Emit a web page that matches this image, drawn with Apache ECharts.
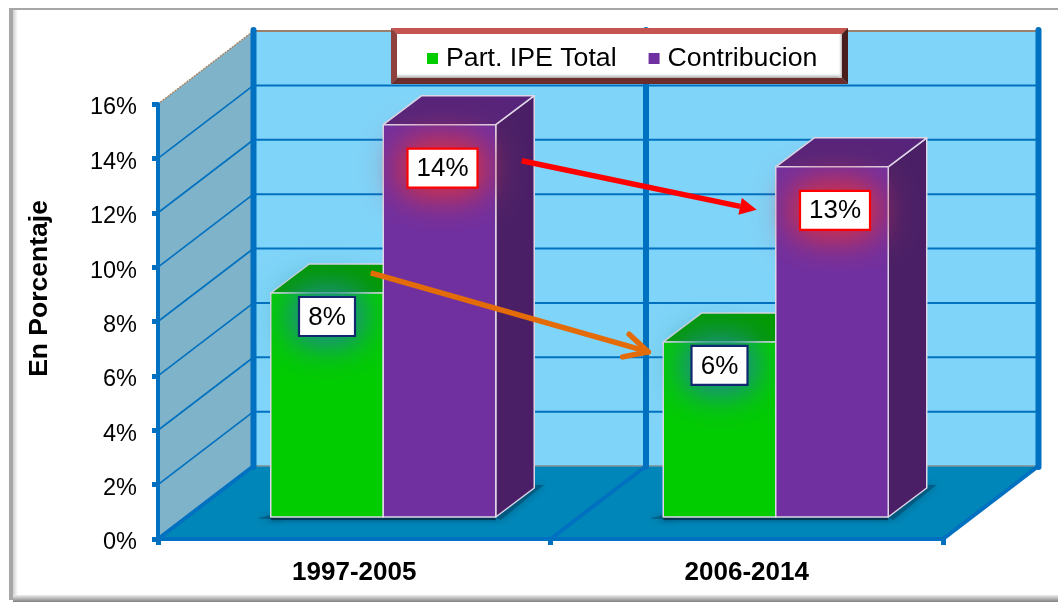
<!DOCTYPE html>
<html><head><meta charset="utf-8">
<style>html,body{margin:0;padding:0;background:#fff}#c{width:1058px;height:602px}</style>
<script src="https://cdn.jsdelivr.net/npm/echarts@6/dist/echarts.min.js"></script>
</head><body><div id="c"></div>
<script>
const categories = ['1997-2005', '2006-2014'];
const partIPE = [8.24, 6.44];
const contribucion = [14.43, 12.88];
const yTicks = [0, 2, 4, 6, 8, 10, 12, 14, 16];

const FONT = '"Liberation Sans", Arial, sans-serif';
const BLUE = '#0070c0';
const WALL = { dx: 95.5, dy: -73 };
const BAR = { dx: 29, dy: -22, w: 112.5, ddx: 38.5, ddy: -29 };
const chart = echarts.init(document.getElementById('c'), null, { renderer: 'canvas' });

function poly(points, style, z2) {
  return { type: 'polygon', shape: { points }, style, z2: z2 || 0, silent: true };
}
function line(a, b, stroke, lineWidth, extra, z2) {
  return { type: 'line', shape: { x1: a[0], y1: a[1], x2: b[0], y2: b[1] },
    style: Object.assign({ stroke, lineWidth }, extra || {}), z2: z2 || 0, silent: true };
}

function renderWalls(params, api) {
  const cs = params.coordSys;
  const L = cs.x, R = cs.x + cs.width, T = cs.y, B = cs.y + cs.height;
  const M = (L + R) / 2, d = WALL;
  const ch = [];
  ch.push(poly([[L + d.dx, T + d.dy], [R + d.dx, T + d.dy], [R + d.dx, B + d.dy], [L + d.dx, B + d.dy]], { fill: '#7fd5f9' }));
  ch.push(poly([[L, T], [L + d.dx, T + d.dy], [L + d.dx, B + d.dy], [L, B]], { fill: '#7fb3c9' }));
  ch.push(poly([[L, B], [R, B], [R + d.dx, B + d.dy], [L + d.dx, B + d.dy]], { fill: '#0086b8' }));
  yTicks.forEach(function (v) {
    const y = api.coord([0, v])[1];
    if (v > 0 && v < 16) {
      ch.push(line([L, y], [L + d.dx, y + d.dy], BLUE, 1.6));
      ch.push(line([L + d.dx, y + d.dy], [R + d.dx, y + d.dy], BLUE, 2));
    }
  });
  ch.push(line([L + d.dx, T + d.dy], [R + d.dx, T + d.dy], '#9a7f6a', 2));
  ch.push(line([L, T], [L + d.dx, T + d.dy], '#a9825f', 1.4, { lineDash: [2, 1] }));
  ch.push(line([L + d.dx, B + d.dy], [R + d.dx, B + d.dy], '#7f8f96', 1.5));
  [L, M, R].forEach(function (x) {
    ch.push(line([x + d.dx, T + d.dy - 1], [x + d.dx, B + d.dy + 1], BLUE, 6, { lineCap: 'round' }, 2));
    ch.push(line([x, B], [x + d.dx, B + d.dy], BLUE, 4, null, 2));
  });
  return { type: 'group', children: ch };
}

function barBox(api, i, value, slot) {
  const base = api.coord([i, 0]);
  const top = api.coord([i, value]);
  const x0 = base[0] + BAR.dx + (slot - 1) * BAR.w;
  return { x0, x1: x0 + BAR.w, yB: base[1] + BAR.dy, yT: top[1] + BAR.dy };
}

function bar3D(slot, colors, labelOpts) {
  return function (params, api) {
    const i = api.value(0), v = api.value(1);
    const b = barBox(api, i, v, slot);
    const ex = BAR.ddx, ey = BAR.ddy;
    const edge = { stroke: '#ded6e6', lineWidth: 1.5, lineJoin: 'round' };
    const ch = [];
    const sh = { shadowBlur: 9, shadowColor: 'rgba(0,25,45,0.85)' };
    if (slot === 0) {
      ch.push(poly([[b.x0 - 13, b.yB + 1], [b.x0 + 10, b.yB - 4], [b.x0 + 10, b.yB + 2], [b.x0 - 8, b.yB + 2]],
        Object.assign({ fill: 'rgba(0,40,65,0.35)' }, sh)));
      ch.push(line([b.x0, b.yB + 1.5], [b.x0 + 2 * BAR.w, b.yB + 1.5], 'rgba(0,35,60,0.7)', 3, { shadowBlur: 5, shadowColor: 'rgba(0,25,45,0.85)' }));
    } else {
      ch.push(poly([[b.x1 - 2, b.yB], [b.x1 + ex, b.yB + ey - 3], [b.x1 + ex + 10, b.yB + ey - 3], [b.x1 + ex + 2, b.yB + ey + 3], [b.x1 + 5, b.yB + 3]],
        Object.assign({ fill: 'rgba(0,40,65,0.35)' }, sh)));
    }
    ch.push(poly([[b.x1, b.yT], [b.x1 + ex, b.yT + ey], [b.x1 + ex, b.yB + ey], [b.x1, b.yB]], Object.assign({ fill: colors.side }, edge)));
    ch.push(poly([[b.x0, b.yT], [b.x0 + ex, b.yT + ey], [b.x1 + ex, b.yT + ey], [b.x1, b.yT]], Object.assign({ fill: colors.top }, edge)));
    ch.push(poly([[b.x0, b.yT], [b.x1, b.yT], [b.x1, b.yB], [b.x0, b.yB]], Object.assign({ fill: colors.front }, edge)));
    const cx = (b.x0 + b.x1) / 2 + labelOpts.dx, cy = b.yT + labelOpts.dy;
    const w = labelOpts.w, h = labelOpts.h;
    [48, 36, 26].forEach(function (blur) {
      ch.push({ type: 'rect', shape: { x: cx - w / 2, y: cy - h / 2, width: w, height: h },
        style: { fill: '#fff', shadowBlur: blur, shadowColor: labelOpts.glow }, silent: true });
    });
    ch.push({ type: 'rect', shape: { x: cx - w / 2, y: cy - h / 2, width: w, height: h },
      style: { fill: '#fff', stroke: labelOpts.border, lineWidth: 2.2 }, silent: true });
    ch.push({ type: 'text', style: { text: Math.round(v) + '%', x: cx, y: cy + 1, align: 'center', verticalAlign: 'middle',
      fill: '#000', font: '26px ' + FONT }, silent: true });
    return { type: 'group', children: ch };
  };
}

function renderArrows(params, api) {
  const g1 = barBox(api, 0, partIPE[0], 0), g2 = barBox(api, 1, partIPE[1], 0);
  const p1 = barBox(api, 0, contribucion[0], 1), p2 = barBox(api, 1, contribucion[1], 1);
  const rA = [p1.x1 + 26, p1.yT + 36], rB = [p2.x0 - 19, p2.yT + 43];
  const oA = [g1.x0 + 100, g1.yT - 20], oB = [g2.x0 - 15, g2.yT + 10];
  const ch = [];
  const rAng = Math.atan2(rB[1] - rA[1], rB[0] - rA[0]);
  const rNeck = [rB[0] - 17 * Math.cos(rAng), rB[1] - 17 * Math.sin(rAng)];
  ch.push(line(rA, rNeck, '#ff0000', 5.5));
  ch.push(poly([rB,
    [rNeck[0] + 8.5 * Math.sin(rAng), rNeck[1] - 8.5 * Math.cos(rAng)],
    [rNeck[0] - 8.5 * Math.sin(rAng), rNeck[1] + 8.5 * Math.cos(rAng)]], { fill: '#ff0000' }));
  const oAng = Math.atan2(oB[1] - oA[1], oB[0] - oA[0]);
  ch.push(line(oA, [oB[0] - 3, oB[1] - 1], '#e36c09', 5.5));
  [0.47, -0.47].forEach(function (a) {
    ch.push(line(oB, [oB[0] - 26 * Math.cos(oAng + a), oB[1] - 26 * Math.sin(oAng + a)], '#e36c09', 5.5, { lineCap: 'round' }));
  });
  return { type: 'group', children: ch };
}

const LB = { x0: 391, x1: 848, y0: 28, y1: 84, b: 6 };
function grad(x2, y2, stops) { return new echarts.graphic.LinearGradient(0, 0, x2, y2, stops); }

const graphicEls = [
  { type: 'rect', shape: { x: 9, y: 8, width: 1049, height: 2 }, style: { fill: '#a6a6a6' }, z: 0 },
  { type: 'rect', shape: { x: 9, y: 8, width: 4, height: 592 }, style: { fill: '#a6a6a6' }, z: 0 },
  { type: 'rect', shape: { x: 13, y: 10, width: 5, height: 585 }, style: { fill: grad(1, 0, [{ offset: 0, color: '#cfcfcf' }, { offset: 1, color: '#ffffff' }]) }, z: 0 },
  { type: 'rect', shape: { x: 13, y: 595, width: 1045, height: 7 }, style: { fill: grad(0, 1, [{ offset: 0, color: '#eeeeee' }, { offset: 1, color: '#808080' }]) }, z: 0 },
  { type: 'polygon', shape: { points: [[LB.x0, LB.y0], [LB.x1, LB.y0], [LB.x1 - LB.b, LB.y0 + LB.b], [LB.x0 + LB.b, LB.y0 + LB.b]] }, style: { fill: '#c4544f' }, z: 9 },
  { type: 'polygon', shape: { points: [[LB.x0, LB.y0], [LB.x0 + LB.b, LB.y0 + LB.b], [LB.x0 + LB.b, LB.y1 - LB.b], [LB.x0, LB.y1]] }, style: { fill: '#8f3f3c' }, z: 9 },
  { type: 'polygon', shape: { points: [[LB.x1, LB.y0], [LB.x1, LB.y1], [LB.x1 - LB.b, LB.y1 - LB.b], [LB.x1 - LB.b, LB.y0 + LB.b]] }, style: { fill: '#4a1e1d' }, z: 9 },
  { type: 'polygon', shape: { points: [[LB.x0, LB.y1], [LB.x1, LB.y1], [LB.x1 - LB.b, LB.y1 - LB.b], [LB.x0 + LB.b, LB.y1 - LB.b]] }, style: { fill: '#6d2d2b' }, z: 9 },
  { type: 'rect', shape: { x: LB.x0 + LB.b, y: LB.y0 + LB.b, width: LB.x1 - LB.x0 - 2 * LB.b, height: LB.y1 - LB.y0 - 2 * LB.b }, style: { fill: '#ffffff' }, z: 9 },
  { type: 'rect', shape: { x: LB.x0 + LB.b, y: LB.y1 - LB.b - 4, width: LB.x1 - LB.x0 - 2 * LB.b, height: 4 }, style: { fill: grad(0, 1, [{ offset: 0, color: '#ffffff' }, { offset: 1, color: '#a9a9a9' }]) }, z: 9 },
  { type: 'rect', shape: { x: LB.x1 - LB.b - 4, y: LB.y0 + LB.b, width: 4, height: LB.y1 - LB.y0 - 2 * LB.b }, style: { fill: grad(1, 0, [{ offset: 0, color: 'rgba(255,255,255,0)' }, { offset: 1, color: '#b5b5b5' }]) }, z: 9 }
];

const greenColors = { front: '#00cc00', top: '#009900', side: '#008a00' };
const purpleColors = { front: '#7030a0', top: '#56247a', side: '#4a1f66' };
const greenLabel = { dx: 0, dy: 23.5, w: 56, h: 39, border: '#12286e', glow: '#1a8f80' };
const purpleLabel = { dx: 3, dy: 43.5, w: 70, h: 39, border: '#ff0000', glow: '#c83050' };

chart.setOption({
  animation: false,
  backgroundColor: '#ffffff',
  textStyle: { fontFamily: FONT },
  graphic: { elements: graphicEls },
  legend: {
    left: 427, top: 45, padding: 0, z: 10, itemWidth: 11, itemHeight: 11, itemGap: 32, icon: 'rect',
    data: ['Part. IPE Total', 'Contribucion'],
    textStyle: { fontSize: 26.7, color: '#000', fontFamily: FONT, padding: [0, 0, 0, 3] }
  },
  grid: { left: 158, right: 115, top: 104, height: 435 },
  xAxis: {
    type: 'category', data: categories, z: 3,
    axisLine: { lineStyle: { color: BLUE, width: 4 } },
    axisTick: { show: true, length: 6, lineStyle: { color: BLUE, width: 5 } },
    axisLabel: { fontSize: 26, fontWeight: 'bold', color: '#000', margin: 21, fontFamily: FONT },
    splitLine: { show: false }
  },
  yAxis: {
    type: 'value', min: 0, max: 16, interval: 2, z: 3,
    name: 'En Porcentaje', nameLocation: 'middle', nameGap: 105, nameRotate: 90,
    nameTextStyle: { fontSize: 26.5, fontWeight: 'bold', color: '#000', fontFamily: FONT, padding: [0, 0, 0, 66] },
    axisLine: { show: true, lineStyle: { color: BLUE, width: 4 } },
    axisTick: { show: true, length: 6, lineStyle: { color: BLUE, width: 5 } },
    axisLabel: { fontSize: 23.5, color: '#000', margin: 21, verticalAlign: 'top', lineHeight: 8, formatter: '{value}%', fontFamily: FONT },
    splitLine: { show: false }
  },
  series: [
    { type: 'custom', name: 'walls', z: 1, silent: true, data: [[0, 0]], renderItem: renderWalls },
    { type: 'custom', name: 'Part. IPE Total', z: 4, itemStyle: { color: '#00cc00' },
      data: categories.map((c, i) => [i, partIPE[i]]), renderItem: bar3D(0, greenColors, greenLabel) },
    { type: 'custom', name: 'Contribucion', z: 5, itemStyle: { color: '#7030a0' },
      data: categories.map((c, i) => [i, contribucion[i]]), renderItem: bar3D(1, purpleColors, purpleLabel) },
    { type: 'custom', name: 'arrows', z: 6, silent: true, data: [[0, 0]], renderItem: renderArrows }
  ]
});
</script></body></html>
